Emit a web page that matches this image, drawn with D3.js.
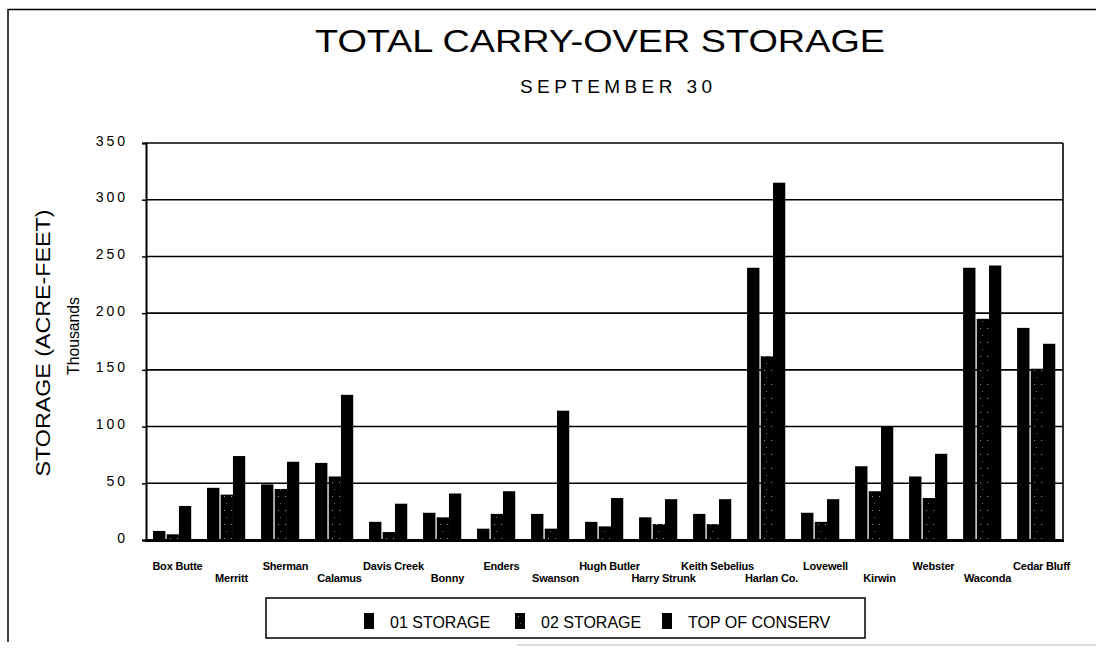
<!DOCTYPE html>
<html>
<head>
<meta charset="utf-8">
<script src="https://cdn.jsdelivr.net/npm/d3@7"></script>
<style>
  body { margin: 0; background: #fff; }
  svg { display: block; font-family: "Liberation Sans", Arial, sans-serif; }
</style>
</head>
<body>
<div id="chart"></div>
<script>
// reservoirs, in chart order
const reservoirs = [
  "Box Butte", "Merritt", "Sherman", "Calamus", "Davis Creek", "Bonny",
  "Enders", "Swanson", "Hugh Butler", "Harry Strunk", "Keith Sebelius",
  "Harlan Co.", "Lovewell", "Kirwin", "Webster", "Waconda", "Cedar Bluff"
];

// thousands of acre-feet
const storage01 = [8, 46, 49, 68, 16, 24, 10, 23, 16, 20, 23, 240, 24, 65, 56, 240, 187];
const storage02 = [5, 40, 45, 56, 7, 20, 23, 10, 12, 14, 14, 162, 16, 43, 37, 195, 151];
const topOfConserv = [30, 74, 69, 128, 32, 41, 43, 114, 37, 36, 36, 315, 36, 100, 76, 242, 173];

const seriesNames = ["01 STORAGE", "02 STORAGE", "TOP OF CONSERV"];
const yTicks = [0, 50, 100, 150, 200, 250, 300, 350];

const W = 1096, H = 650;
const margin = { top: 143, right: 33, bottom: 110, left: 146 };
const plotW = W - margin.left - margin.right;
const plotH = H - margin.top - margin.bottom;

const rows = reservoirs.map((name, i) => ({
  name,
  values: [storage01[i], storage02[i], topOfConserv[i]]
}));

const svg = d3.select("#chart").append("svg")
  .attr("width", W)
  .attr("height", H);

// speckled fill used for the 02 series (mostly black, a few light dots)
const defs = svg.append("defs");
const pat = defs.append("pattern")
  .attr("id", "speckle")
  .attr("patternUnits", "userSpaceOnUse")
  .attr("width", 7).attr("height", 14);
pat.append("rect").attr("width", 7).attr("height", 14).attr("fill", "#000");
pat.append("rect").attr("x", 3).attr("y", 3).attr("width", 1).attr("height", 1).attr("fill", "#999");
pat.append("rect").attr("x", 5).attr("y", 10).attr("width", 1).attr("height", 1).attr("fill", "#666");

const fills = ["#000", "url(#speckle)", "#000"];

// outer frame (only left and top survive on the scan)
svg.append("line").attr("x1", 8).attr("x2", 8).attr("y1", 9).attr("y2", 642)
  .attr("stroke", "#000").attr("stroke-width", 1.5);
svg.append("line").attr("x1", 8).attr("x2", W).attr("y1", 9.5).attr("y2", 9.5)
  .attr("stroke", "#000").attr("stroke-width", 1.5);
svg.append("line").attr("x1", 517).attr("x2", W).attr("y1", 645).attr("y2", 645)
  .attr("stroke", "#bbb").attr("stroke-width", 1);

// titles
svg.append("text")
  .attr("x", 315).attr("y", 52)
  .attr("font-size", 31)
  .attr("textLength", 570)
  .attr("lengthAdjust", "spacingAndGlyphs")
  .text("TOTAL CARRY-OVER STORAGE");

svg.append("text")
  .attr("x", 520).attr("y", 93)
  .attr("font-size", 19)
  .attr("textLength", 192)
  .attr("lengthAdjust", "spacing")
  .text("SEPTEMBER 30");

// scales
const x0 = d3.scaleBand()
  .domain(reservoirs)
  .range([0, plotW])
  .paddingInner(0.28)
  .paddingOuter(0.13);

const x1 = d3.scaleBand()
  .domain([0, 1, 2])
  .range([0, x0.bandwidth()]);

const y = d3.scaleLinear()
  .domain([0, 350])
  .range([plotH, 0]);

const plot = svg.append("g")
  .attr("transform", `translate(${margin.left},${margin.top})`);

// gridlines
plot.append("g")
  .selectAll("line")
  .data(yTicks.filter(d => d > 0))
  .join("line")
  .attr("x1", 0).attr("x2", plotW)
  .attr("y1", d => y(d)).attr("y2", d => y(d))
  .attr("stroke", "#000").attr("stroke-width", 1.6);

// right side of the frame
plot.append("line")
  .attr("x1", plotW).attr("x2", plotW)
  .attr("y1", 0).attr("y2", plotH)
  .attr("stroke", "#000").attr("stroke-width", 1.6);

// bars
const groups = plot.append("g")
  .selectAll("g")
  .data(rows)
  .join("g")
  .attr("transform", d => `translate(${x0(d.name)},0)`);

groups.selectAll("rect")
  .data(d => d.values.map((v, k) => ({ v, k })))
  .join("rect")
  .attr("x", d => x1(d.k) + (d.k === 1 ? 0.7 : 0))
  .attr("width", d => x1.bandwidth() - (d.k === 0 ? 0.6 : 0.7))
  .attr("y", d => y(d.v))
  .attr("height", d => y(0) - y(d.v))
  .attr("fill", d => fills[d.k]);

// y axis
const yAxis = plot.append("g")
  .call(d3.axisLeft(y).tickValues(yTicks).tickSize(4).tickPadding(14));
yAxis.select(".domain").attr("stroke-width", 2);
yAxis.selectAll(".tick line").attr("stroke-width", 1.5);
yAxis.selectAll(".tick text")
  .attr("font-size", 14)
  .attr("font-family", "Liberation Sans, Arial, sans-serif")
  .attr("letter-spacing", 3)
  .attr("dy", "0.15em")
  .attr("fill", "#000");

// heavy baseline
plot.append("line")
  .attr("x1", -1).attr("x2", plotW + 1)
  .attr("y1", plotH + 0.5).attr("y2", plotH + 0.5)
  .attr("stroke", "#000").attr("stroke-width", 3);

// category labels, staggered on two rows
plot.append("g")
  .selectAll("text")
  .data(reservoirs)
  .join("text")
  .attr("x", d => x0(d) + x0.bandwidth() / 2 + 5)
  .attr("y", (d, i) => plotH + (i % 2 === 0 ? 30 : 42))
  .attr("text-anchor", "middle")
  .attr("font-size", 11)
  .attr("font-weight", "bold")
  .attr("letter-spacing", -0.2)
  .text(d => d);

// axis titles
svg.append("text")
  .attr("transform", "translate(50,343) rotate(-90)")
  .attr("text-anchor", "middle")
  .attr("font-size", 20)
  .attr("textLength", 267)
  .attr("lengthAdjust", "spacingAndGlyphs")
  .text("STORAGE (ACRE-FEET)");

svg.append("text")
  .attr("transform", "translate(79,336) rotate(-90)")
  .attr("text-anchor", "middle")
  .attr("font-size", 16)
  .attr("textLength", 78)
  .attr("lengthAdjust", "spacingAndGlyphs")
  .text("Thousands");

// legend
const legend = svg.append("g");
legend.append("rect")
  .attr("x", 266).attr("y", 598)
  .attr("width", 599).attr("height", 40)
  .attr("fill", "none").attr("stroke", "#000").attr("stroke-width", 1.5);

const legendX = [364, 515, 662];
const items = legend.selectAll("g.item")
  .data(seriesNames)
  .join("g")
  .attr("class", "item")
  .attr("transform", (d, i) => `translate(${legendX[i]},613)`);
items.append("rect")
  .attr("width", 10).attr("height", 16)
  .attr("fill", (d, i) => fills[i]);
items.append("text")
  .attr("x", 26).attr("y", 15)
  .attr("font-size", 16)
  .text(d => d);
</script>
</body>
</html>
